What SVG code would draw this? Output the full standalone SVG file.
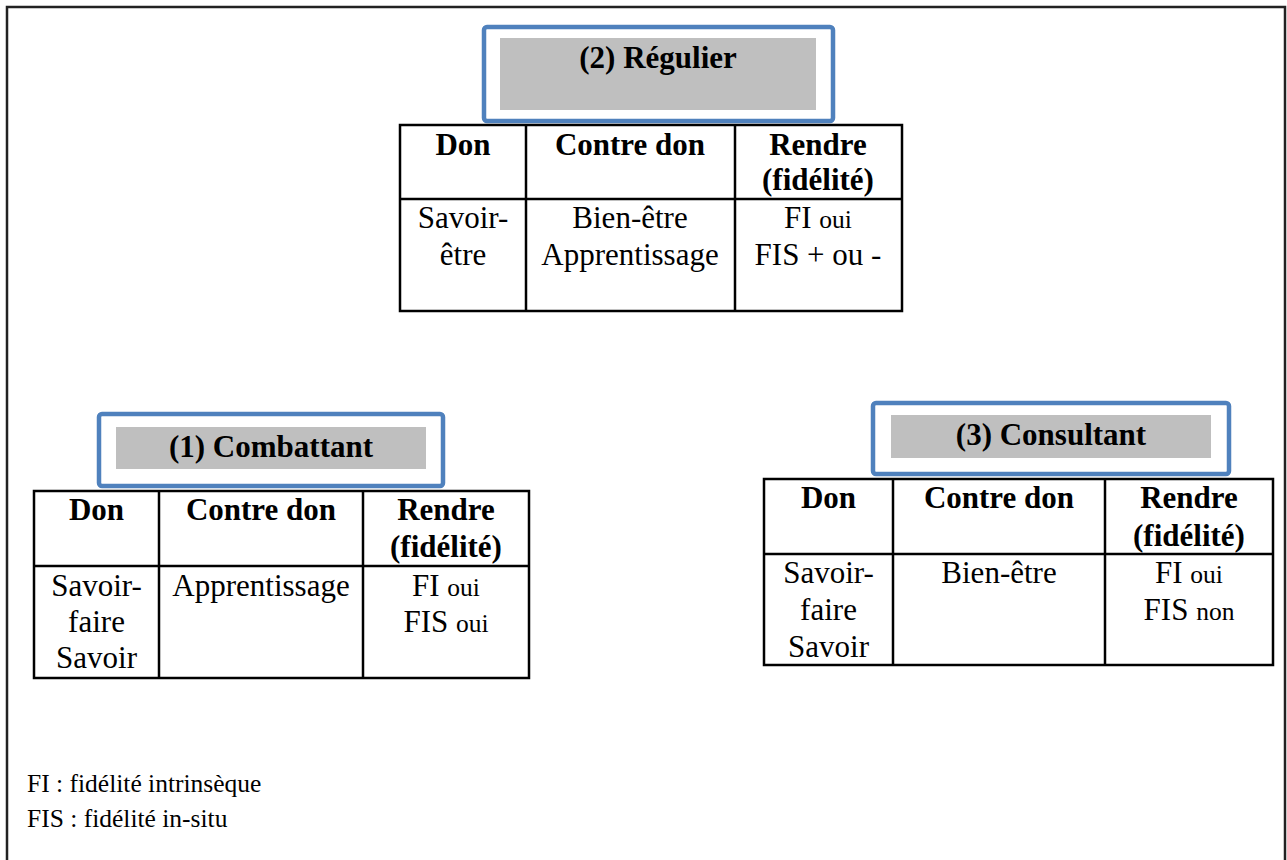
<svg xmlns="http://www.w3.org/2000/svg" width="1287" height="860" viewBox="0 0 1287 860">
<style>
text{font-family:"Liberation Serif","Times New Roman",serif;fill:#000;}
.h{font-weight:bold;font-size:31px;text-anchor:middle;}
.b{font-size:31px;text-anchor:middle;}
.s{font-size:25.5px;}
.t{font-weight:bold;font-size:31px;text-anchor:middle;}
.f{font-size:25.5px;}
.frame{fill:#fff;stroke:#4f81bd;stroke-width:4.5;}
.gray{fill:#bfbfbf;}
.tab{fill:#fff;stroke:#000;stroke-width:2.5;}
.ln{stroke:#000;stroke-width:2.5;}
</style>
<rect width="1287" height="860" fill="#fff"/>
<rect x="7" y="7" width="1278" height="880" fill="none" stroke="#222" stroke-width="2.5"/>

<g id="regulier">
<rect class="frame" x="484" y="27" width="349" height="94" rx="3"/>
<rect class="gray" x="500" y="38" width="316" height="72"/>
<text class="t" x="658" y="68">(2) Régulier</text>
<rect class="tab" x="400" y="125" width="502" height="186"/>
<line class="ln" x1="526" y1="125" x2="526" y2="311"/>
<line class="ln" x1="735" y1="125" x2="735" y2="311"/>
<line class="ln" x1="400" y1="199" x2="902" y2="199"/>
<text class="h" x="463" y="155">Don</text>
<text class="h" x="630" y="155">Contre don</text>
<text class="h" x="818" y="155">Rendre</text>
<text class="h" x="818" y="190">(fidélité)</text>
<text class="b" x="463" y="228">Savoir-</text>
<text class="b" x="463" y="265">être</text>
<text class="b" x="630" y="228">Bien-être</text>
<text class="b" x="630" y="265">Apprentissage</text>
<text class="b" x="818" y="228">FI <tspan class="s">oui</tspan></text>
<text class="b" x="818" y="265">FIS + ou -</text>
</g>

<g id="combattant">
<rect class="frame" x="99" y="414" width="344" height="72" rx="3"/>
<rect class="gray" x="116" y="427" width="310" height="42"/>
<text class="t" x="271" y="457">(1) Combattant</text>
<rect class="tab" x="34" y="491" width="495" height="187"/>
<line class="ln" x1="159" y1="491" x2="159" y2="678"/>
<line class="ln" x1="363" y1="491" x2="363" y2="678"/>
<line class="ln" x1="34" y1="566" x2="529" y2="566"/>
<text class="h" x="96.5" y="520">Don</text>
<text class="h" x="261" y="520">Contre don</text>
<text class="h" x="446" y="520">Rendre</text>
<text class="h" x="446" y="557">(fidélité)</text>
<text class="b" x="96.5" y="596">Savoir-</text>
<text class="b" x="96.5" y="632">faire</text>
<text class="b" x="96.5" y="668">Savoir</text>
<text class="b" x="261" y="596">Apprentissage</text>
<text class="b" x="446" y="596">FI <tspan class="s">oui</tspan></text>
<text class="b" x="446" y="632">FIS <tspan class="s">oui</tspan></text>
</g>

<g id="consultant">
<rect class="frame" x="873" y="403" width="356" height="71" rx="3"/>
<rect class="gray" x="891" y="415" width="320" height="43"/>
<text class="t" x="1051" y="445">(3) Consultant</text>
<rect class="tab" x="764" y="479" width="509" height="186"/>
<line class="ln" x1="893" y1="479" x2="893" y2="665"/>
<line class="ln" x1="1105" y1="479" x2="1105" y2="665"/>
<line class="ln" x1="764" y1="554" x2="1273" y2="554"/>
<text class="h" x="828.5" y="508">Don</text>
<text class="h" x="999" y="508">Contre don</text>
<text class="h" x="1189" y="508">Rendre</text>
<text class="h" x="1189" y="546">(fidélité)</text>
<text class="b" x="828.5" y="583">Savoir-</text>
<text class="b" x="828.5" y="620">faire</text>
<text class="b" x="828.5" y="657">Savoir</text>
<text class="b" x="999" y="583">Bien-être</text>
<text class="b" x="1189" y="583">FI <tspan class="s">oui</tspan></text>
<text class="b" x="1189" y="620">FIS <tspan class="s">non</tspan></text>
</g>

<g id="connectors"></g>

<g id="legend">
<text class="f" x="27" y="792">FI : fidélité intrinsèque</text>
<text class="f" x="27" y="827">FIS : fidélité in-situ</text>
</g>
</svg>
